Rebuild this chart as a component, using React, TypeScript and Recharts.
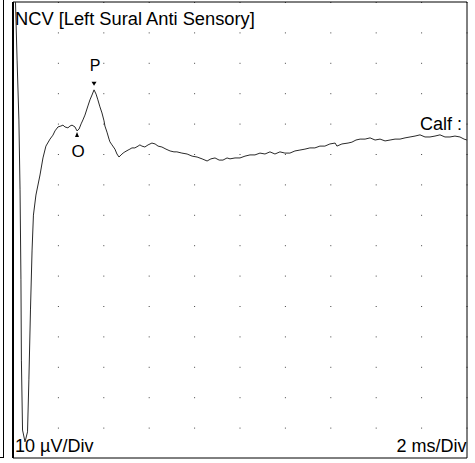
import {
  LineChart,
  Line,
  XAxis,
  YAxis,
  CartesianGrid,
  ReferenceArea,
  ReferenceLine,
  ReferenceDot,
} from "recharts";

// time in ms, amplitude in µV
const times = [
  0.11, 0.18, 0.26, 0.31, 0.35, 0.37, 0.42, 0.53, 0.64, 0.7, 0.77, 0.84, 0.9,
  1.01, 1.19, 1.32, 1.45, 1.63, 1.76, 1.85, 1.98, 2.11, 2.2, 2.29, 2.42, 2.51,
  2.6, 2.73, 2.82, 2.91, 3.0, 3.08, 3.17, 3.3, 3.39, 3.48, 3.57, 3.66, 3.74,
  3.83, 3.92, 4.01, 4.05, 4.14, 4.23, 4.27, 4.36, 4.49, 4.58, 4.67, 4.76, 4.85,
  4.93, 5.07, 5.15, 5.24, 5.37, 5.51, 5.59, 5.68, 5.81, 5.95, 6.12, 6.26, 6.39,
  6.56, 6.74, 6.92, 7.09, 7.22, 7.44, 7.67, 7.89, 8.11, 8.33, 8.55, 8.72, 8.9,
  9.08, 9.25, 9.43, 9.56, 9.78, 10.0, 10.22, 10.44, 10.66, 10.88, 11.1, 11.32,
  11.54, 11.76, 11.98, 12.2, 12.42, 12.64, 12.86, 13.08, 13.3, 13.52, 13.74,
  13.96, 14.19, 14.27, 14.49, 14.76, 14.93, 15.11, 15.29, 15.51, 15.73, 15.95,
  16.17, 16.39, 16.61, 16.83, 17.05, 17.27, 17.49, 17.71, 17.93, 18.15, 18.37,
  18.59, 18.81, 19.03, 19.25, 19.47, 19.69, 19.87, 20.0,
];
const amplitudes = [
  50, 30.9, 11.2, -11.8, -41.4, -67.8, -90.8, -94.7, -91.4, -74.3, -51.3, -31.6,
  -20.1, -13.5, -6.9, -1.3, 2.6, 4.9, 6.2, 7.6, 8.9, 9.2, 9.5, 8.9, 8.6, 9.2,
  9.5, 8.9, 7.6, 8.2, 9.9, 11.2, 12.8, 15.8, 17.8, 19.4, 21.1, 19.7, 17.8, 15.5,
  13.5, 10.9, 9.2, 7.2, 4.9, 4.0, 3.0, 1.6, 0.0, -1.0, -0.3, 0.3, 0.7, 1.3, 1.6,
  2.0, 2.0, 2.6, 3.0, 2.6, 2.3, 3.0, 3.6, 3.3, 2.6, 2.3, 1.6, 1.0, 0.7, 0.7,
  0.3, 0.0, -0.7, -1.0, -1.6, -2.3, -1.6, -1.3, -2.0, -2.0, -1.3, -1.6, -1.3,
  -1.3, -0.7, -0.3, -0.3, 0.3, 0.0, 0.7, 0.0, 0.7, 0.3, 0.3, 1.0, 1.3, 1.6, 2.0,
  2.0, 2.6, 2.6, 3.3, 3.6, 2.6, 3.3, 3.6, 3.9, 4.6, 4.9, 4.9, 5.3, 4.6, 4.9, 4.3,
  4.6, 4.9, 4.9, 5.3, 5.6, 5.9, 6.3, 5.6, 5.6, 5.9, 6.3, 5.6, 5.6, 5.9, 5.6, 4.9,
  4.6,
];

const xTicks = [0, 2, 4, 6, 8, 10, 12, 14, 16, 18, 20]; // 2 ms/Div
const yTicks = [-100, -90, -80, -70, -60, -50, -40, -30, -20, -10, 0, 10, 20, 30, 40, 50]; // 10 µV/Div

// onset and peak markers
const onset = { t: 2.82, v: 7.6, label: "O" };
const peak = { t: 3.57, v: 21.1, label: "P" };

const trace = times.map((t, i) => ({ t, v: amplitudes[i] }));

const FONT = "'Liberation Sans', Arial, sans-serif";

const PeakMarker = (props: any) => {
  const { cx, cy } = props;
  return (
    <g>
      <path d={`M${cx - 2.5},${cy - 8} L${cx + 2.5},${cy - 8} L${cx},${cy - 4} Z`} fill="#000" />
      <text x={cx + 1} y={cy - 19} textAnchor="middle" fontFamily={FONT} fontSize={16} fill="#000">
        {peak.label}
      </text>
    </g>
  );
};

const OnsetMarker = (props: any) => {
  const { cx, cy } = props;
  return (
    <g>
      <path d={`M${cx - 2},${cy + 6} L${cx + 2},${cy + 6} L${cx},${cy + 1} Z`} fill="#000" />
      <text x={cx + 1} y={cy + 26} textAnchor="middle" fontFamily={FONT} fontSize={17} fill="#000">
        {onset.label}
      </text>
    </g>
  );
};

const labelStyle = {
  position: "absolute" as const,
  fontFamily: FONT,
  fontSize: 18,
  lineHeight: 1,
  color: "#000",
  whiteSpace: "nowrap" as const,
};

export default function App() {
  return (
    <div style={{ position: "absolute", left: 0, top: 0, width: 475, height: 463, background: "#fff" }}>
      {/* edge of the neighbouring panel */}
      <div
        style={{
          position: "absolute",
          left: 0,
          top: 0,
          width: 3,
          height: 457,
          borderRight: "1px solid #000",
          borderBottom: "1px solid #000",
        }}
      />
      <LineChart
        width={475}
        height={463}
        data={trace}
        margin={{ top: 2, right: 8, bottom: 5, left: 13 }}
      >
        <XAxis type="number" dataKey="t" domain={[0, 20]} ticks={xTicks} hide />
        <YAxis
          type="number"
          domain={[-100, 50]}
          ticks={yTicks}
          width={0}
          mirror
          axisLine={false}
          tickLine={{ stroke: "#000" }}
          tickSize={2}
          tickFormatter={() => ""}
          allowDataOverflow
        />
        <CartesianGrid
          horizontal={false}
          stroke="#444"
          strokeDasharray="1 29.4"
        />
        <ReferenceArea x1={0} x2={20} y1={-100} y2={50} fill="none" stroke="#000" strokeWidth={1} />
        <ReferenceLine x={0} stroke="#000" strokeWidth={2} />
        <Line
          type="linear"
          dataKey="v"
          stroke="#2a2a2a"
          strokeWidth={1}
          dot={false}
          isAnimationActive={false}
        />
        <ReferenceDot x={peak.t} y={peak.v} r={0} shape={PeakMarker} />
        <ReferenceDot x={onset.t} y={onset.v} r={0} shape={OnsetMarker} />
      </LineChart>
      <div style={{ ...labelStyle, left: 15, top: 9.8, fontSize: 18.3 }}>
        NCV [Left Sural Anti Sensory]
      </div>
      <div style={{ ...labelStyle, left: 420, top: 114.8 }}>Calf :</div>
      <div style={{ ...labelStyle, left: 15, top: 436.5 }}>10 µV/Div</div>
      <div style={{ ...labelStyle, right: 8.5, top: 436.5 }}>2 ms/Div</div>
    </div>
  );
}
